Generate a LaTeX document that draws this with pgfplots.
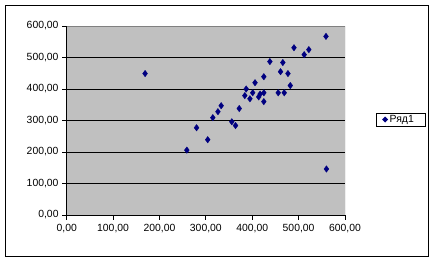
\documentclass[border=0pt]{standalone}
\usepackage{fontspec}
\setmainfont{Liberation Sans}
\usepackage{pgfplots}
\pgfplotsset{compat=1.18}
\definecolor{plotgray}{HTML}{C0C0C0}
\definecolor{navy}{HTML}{000080}
\begin{document}
\fontsize{10.4bp}{12bp}\selectfont
\begin{tikzpicture}[x=1bp,y=1bp]
\useasboundingbox (0,0) rectangle (435,261);
\draw[black,line width=1bp] (5.5,5) rectangle (428.5,255.5);
\begin{axis}[
  at={(66.7bp,46bp)}, anchor=south west,
  scale only axis, width=278.3bp, height=189bp,
  xmin=0, xmax=600, ymin=0, ymax=600,
  xtick={0,100,...,600}, ytick={0,100,...,600},
  axis background/.style={fill=plotgray},
  axis x line*=bottom, axis y line*=left,
  axis line style={black,line width=0.8bp},
  ymajorgrids, grid style={black,line width=0.8bp},
  tick align=outside, major tick length=4.5bp,
  tick style={black,line width=0.8bp},
  xticklabel style={font=\fontsize{10.4bp}{12bp}\selectfont, text=black, yshift=-1bp},
  yticklabel style={font=\fontsize{10.4bp}{12bp}\selectfont, text=black},
  /pgf/number format/assume math mode=true,
  /pgf/number format/.cd, fixed, fixed zerofill, precision=2, use comma, 1000 sep={},
]
\draw[gray,line width=0.8bp] (axis cs:0,600) -- (axis cs:600,600) -- (axis cs:600,0);
\addplot[only marks, mark=diamond*, mark size=3.2bp, color=navy, mark options={fill=navy}] coordinates {
(169,449) (559,567) (560,146) (259,206) (280,277) (304,239) (315,309)
(326,328) (333,347) (356,296) (364,284) (372,338) (384,379) (387,400)
(395,369) (401,388) (406,420) (414,375) (417,384) (425,388) (425,439)
(425,360) (438,487) (456,388) (461,455) (466,484) (469,388) (477,449)
(482,411) (490,531) (512,509) (522,525)
};
\end{axis}
\draw[black,line width=0.8bp] (376.7,135) rectangle (425,148);
\fill[navy] (382,141.5) -- (385,144.5) -- (388,141.5) -- (385,138.5) -- cycle;
\node[anchor=west, inner sep=0pt, text=black] at (389.5,141.5) {Ряд1};
\end{tikzpicture}
\end{document}
